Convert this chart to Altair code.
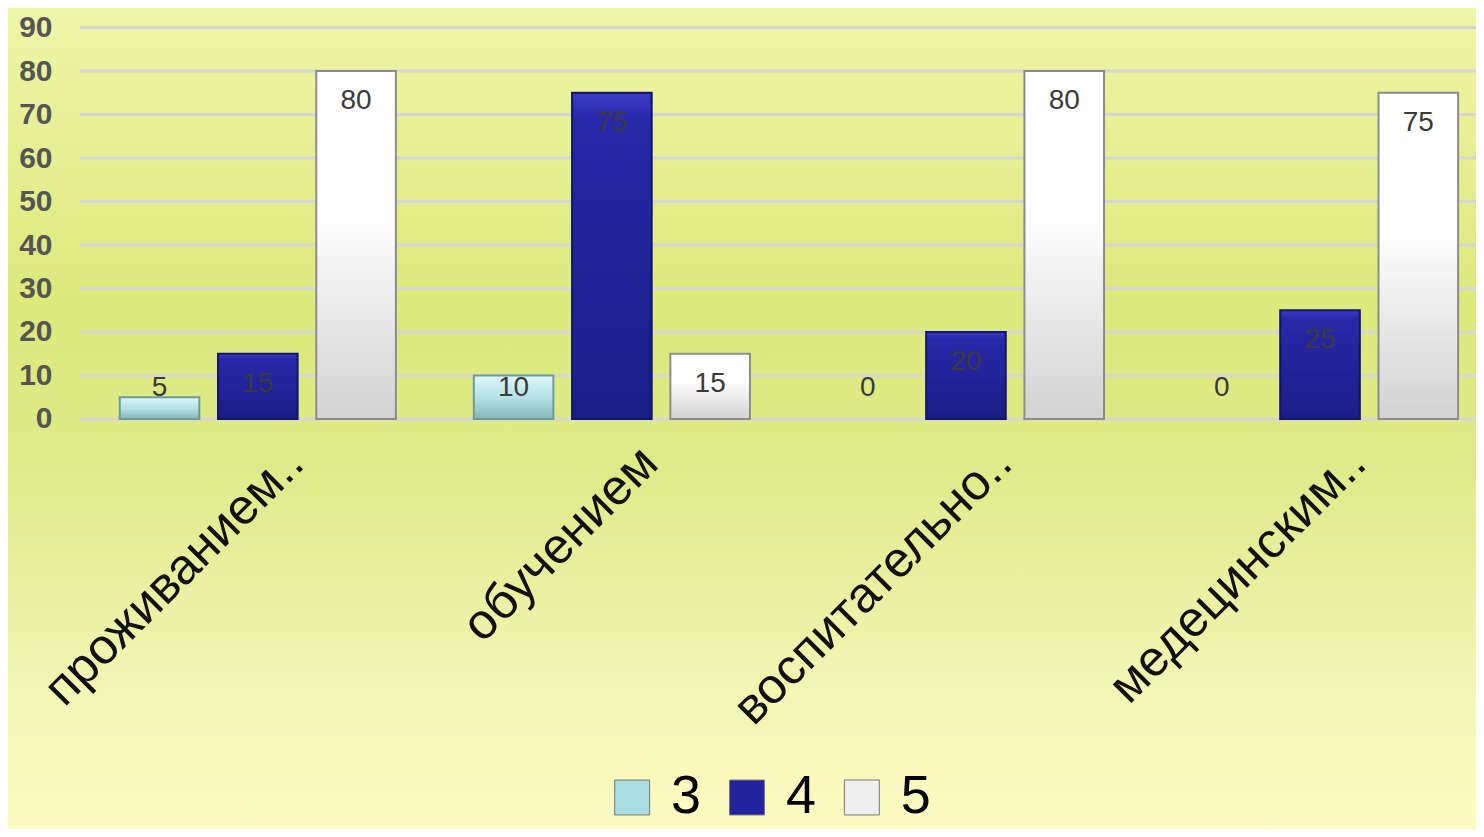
import altair as alt
import pandas as pd

categories = ["проживанием..", "обучением", "воспитательно..", "медецинским.."]
series = ["3", "4", "5"]
values_3 = [5, 10, 0, 0]
values_4 = [15, 75, 20, 25]
values_5 = [80, 15, 80, 75]
y_ticks = [0, 10, 20, 30, 40, 50, 60, 70, 80, 90]

rows = []
for i, c in enumerate(categories):
    for s, vals in zip(series, [values_3, values_4, values_5]):
        rows.append({"cat": c, "series": s, "value": vals[i]})
df = pd.DataFrame(rows)
ticks_df = pd.DataFrame({"tick": y_ticks})

W = 1398
H = 392
PAD_L, PAD_T, PAD_B = 72, 19, 410

font = "Liberation Sans"

def grad(stops):
    return alt.Gradient(
        gradient="linear", x1=0, y1=0, x2=0, y2=1,
        stops=[alt.GradientStop(offset=o, color=c) for o, c in stops],
    )

bg_grad = grad([
    (0.0, "#EFF5A8"), (0.36, "#DCE97B"), (0.55, "#DEEA88"),
    (0.8, "#F0F4B0"), (1.0, "#FDFBC2"),
])

grads = {
    "3": grad([(0, "#DDF8FA"), (0.5, "#B5E2E6"), (1, "#86B6BA")]),
    "4": grad([(0, "#3A3AC8"), (0.08, "#2828AA"), (1, "#1C1C88")]),
    "5": grad([(0, "#FFFFFF"), (0.45, "#FCFCFC"), (1, "#D2D2D2")]),
}
strokes = {"3": "#6E9A9E", "4": "#14146A", "5": "#8C8C8C"}

x_enc = alt.X(
    "cat:N", sort=categories, title=None,
    scale=alt.Scale(paddingInner=0.22, paddingOuter=0.0815, align=0.69),
    axis=alt.Axis(labelAngle=315, labelFontSize=50, labelFont=font,
                  labelColor="#111111", labelPadding=36, labelOffset=38,
                  ticks=False, domain=False, labelLimit=700, labelAlign="right",
                  labelBaseline="middle", zindex=2),
)
xo_enc = alt.XOffset("series:N", scale=alt.Scale(domain=series, paddingInner=0.19))
y_scale = alt.Scale(domain=[0, 90], nice=False)
y_enc = alt.Y(
    "value:Q", scale=y_scale, title=None,
    axis=alt.Axis(values=y_ticks, labelFontSize=30, labelFont=font,
                  labelFontWeight="bold", labelColor="#555555", labelPadding=28,
                  ticks=False, domain=False, grid=False, zindex=2),
)

background = alt.Chart(df).mark_rect(fill=bg_grad).encode(
    x=alt.value(-PAD_L), x2=alt.value(W + 20),
    y=alt.value(-PAD_T), y2=alt.value(H + PAD_B),
)

grid = alt.Chart(ticks_df).mark_rule(color="#D6D6D6", strokeWidth=3).encode(
    y=alt.Y("tick:Q", scale=y_scale),
)

base_bars = alt.Chart(df).mark_bar(opacity=0).encode(
    x=x_enc, xOffset=xo_enc, y=y_enc,
    color=alt.Color(
        "series:N", scale=alt.Scale(domain=series, range=["#A9DDE1", "#2424A0", "#EEEEEE"]),
        legend=alt.Legend(
            title=None, orient="none", direction="horizontal",
            legendX=526, legendY=744, symbolType="square", symbolSize=1225,
            symbolOpacity=1, symbolStrokeColor="#777777", symbolStrokeWidth=1,
            labelFontSize=54, labelFont=font, labelColor="#000000",
            labelOffset=12, columnPadding=18, zindex=2,
        ),
    ),
)

layers = [background, grid, base_bars]
for s in series:
    layers.append(
        alt.Chart(df).transform_filter((alt.datum.series == s) & (alt.datum.value > 0))
        .mark_bar(fill=grads[s], stroke=strokes[s], strokeWidth=2)
        .encode(x=x_enc, xOffset=xo_enc, y=alt.Y("value:Q", scale=y_scale))
    )

labels = alt.Chart(df).transform_calculate(
    ly="max(datum.value - 6.9, 7.1)"
).mark_text(fontSize=28, font=font, color="#3A3A3A", baseline="middle").encode(
    x=x_enc, xOffset=xo_enc, y=alt.Y("ly:Q", scale=y_scale),
    text="value:Q",
)
layers.append(labels)

chart = alt.layer(*layers).properties(
    width=W, height=H,
    autosize=alt.AutoSizeParams(type="none"),
    padding={"left": PAD_L, "top": PAD_T, "right": 0, "bottom": PAD_B},
).configure_view(stroke=None).configure(background="#FDFBC2")

chart.save("out.html", embed_options={"renderer": "svg", "actions": False})
